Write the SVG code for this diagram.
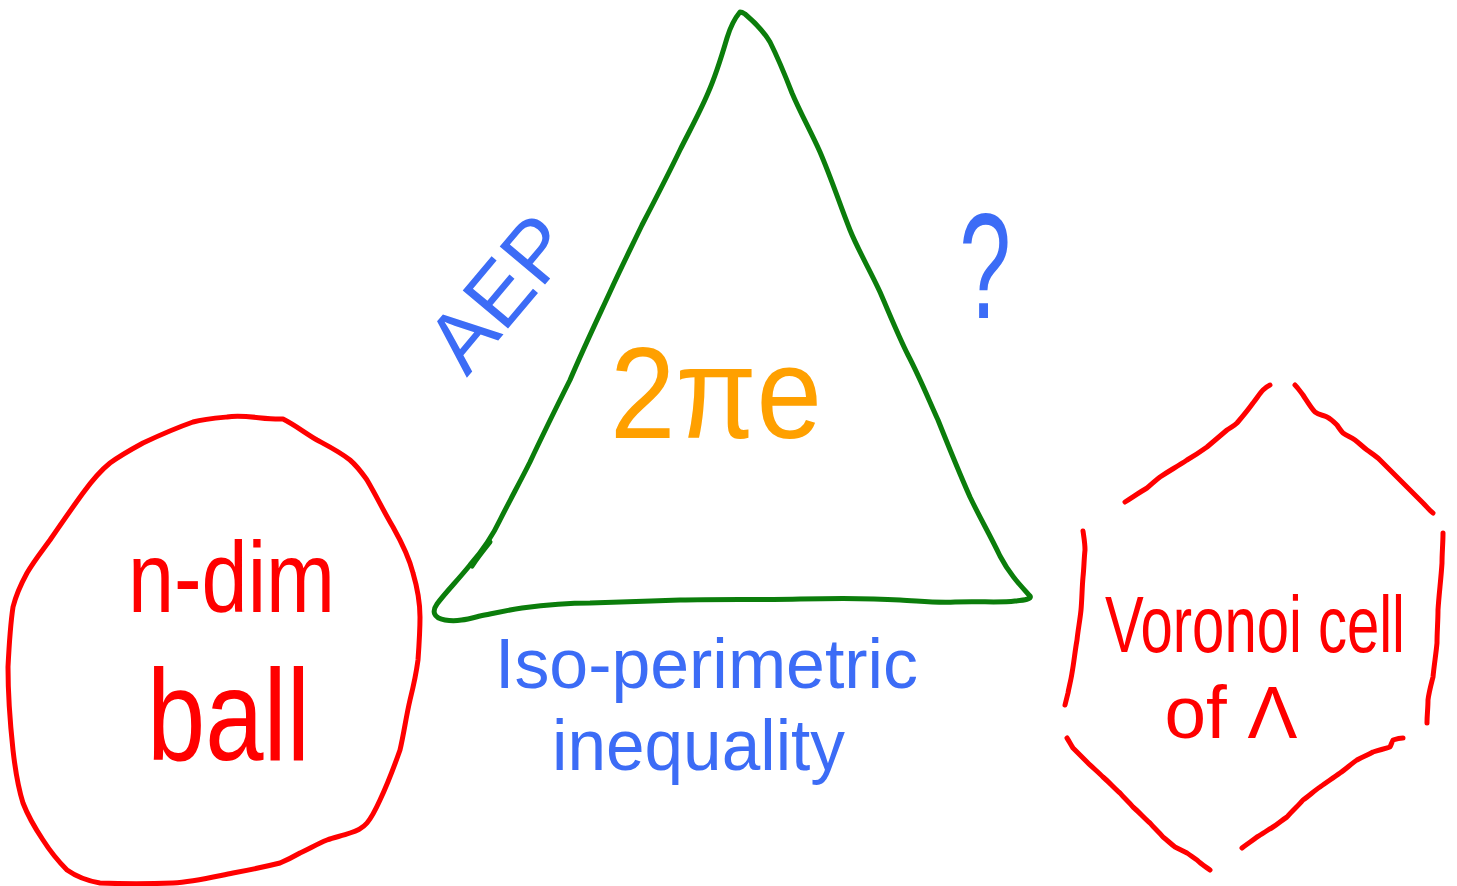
<svg xmlns="http://www.w3.org/2000/svg" width="1457" height="886" viewBox="0 0 1457 886">
<style>
.s{fill:none;stroke-width:5;stroke-linecap:round;stroke-linejoin:round}
.red{stroke:#ff0000}
.grn{stroke:#0b7d0b}
.t{font-family:"Liberation Sans",Arial,sans-serif}
.tr{fill:#ff0000}
.tb{fill:#3c6cf6}
.to{fill:#ffa000}
</style>
<rect width="1457" height="886" fill="#ffffff"/>
<g id="ball">
<path class="s red" d="M227,417 C245,414 265,420 283,419 C295,425 305,433 317,440 C330,447 340,452 350,460 C358,467 362,473 367,480 C377,497 384,512 393,527 C402,543 409,557 413,573 C418,590 420,603 420,617 C420,632 419,646 418,660 C416,675 413,688 410,700 C406,717 404,733 400,750 C394,767 388,783 380,800 C375,811 372,817 367,823 C362,829 356,831 350,833 C342,836 335,837 327,840 C317,844 309,849 300,853 C293,857 287,860 280,863 C264,867 249,870 233,873 C213,877 193,882 173,883 C148,884 124,884 100,883 C88,881 77,877 67,870 C58,861 50,851 43,840 C35,828 28,816 23,803 C18,787 15,768 13,750 C10,722 8,695 8,667 C9,647 10,627 13,607 C16,595 21,584 27,573 C34,561 42,551 50,540 C61,524 72,508 83,493 C91,482 100,471 110,463 C121,455 132,449 143,443 C160,435 176,428 193,422 C204,419 216,418 227,417 Z"/>
<text class="t tr" x="128" y="612" font-size="100" textLength="207" lengthAdjust="spacingAndGlyphs">n-dim</text>
<text class="t tr" x="147" y="760" font-size="130" textLength="163" lengthAdjust="spacingAndGlyphs">ball</text>
</g>
<g id="triangle">
<path class="s grn" d="M740,12 C735,18 730,28 727,38 C722,55 716,75 708,93 C700,112 690,130 680,150 C668,175 655,200 642,225 C630,250 620,270 610,292 C598,318 585,345 570,380 C555,410 545,430 530,462 C520,482 510,500 500,520 C492,537 483,550 470,565 C458,580 445,593 437,604 C432,611 433,618 445,620 C458,622 468,619 480,616 C495,613 508,610 522,608 C545,605 565,603 590,603 C625,602 650,601 680,600 C720,599 760,600 800,599 C840,598 870,598 900,600 C920,601 935,603 955,602 C980,601 1000,603 1015,601 C1025,600 1032,599 1030,596 C1020,585 1010,575 1000,556 C990,535 980,518 970,497 C958,470 948,445 938,420 C928,398 920,378 908,355 C898,335 890,315 880,292 C870,270 858,250 850,230 C840,205 832,180 820,152 C810,130 800,112 792,93 C785,75 778,58 770,42 C763,30 752,20 745,14 C742,12 741,12 740,12 Z"/>
<path class="s grn" d="M490,542 C482,552 476,560 472,566"/>
<text class="t to" x="716" y="438" font-size="130" text-anchor="middle" textLength="212" lengthAdjust="spacingAndGlyphs">2πe</text>
</g>
<g id="labels">
<text class="t tb" x="0" y="0" font-size="86" text-anchor="middle" transform="translate(522,312) rotate(-50)">AEP</text>
<text class="t tb" x="0" y="0" font-size="150" text-anchor="middle" transform="translate(985,318) scale(0.62,1)">?</text>
<text class="t tb" x="495" y="688" font-size="70" textLength="423" lengthAdjust="spacingAndGlyphs">Iso-perimetric</text>
<text class="t tb" x="552" y="770" font-size="72" textLength="293" lengthAdjust="spacingAndGlyphs">inequality</text>
</g>
<g id="voronoi">
<path class="s red" d="M1125,502 C1133,497 1140,492 1147,488 C1152,484 1156,480 1160,477 C1169,471 1178,466 1187,460 C1194,456 1200,452 1207,447 C1214,441 1220,436 1227,430 C1231,427 1234,426 1237,423 C1243,416 1248,410 1253,403 C1257,398 1260,393 1263,390 C1266,387 1268,386 1270,385"/>
<path class="s red" d="M1295,385 C1298,388 1300,391 1303,395 C1307,401 1311,408 1315,412 C1319,415 1323,415 1327,417 C1331,419 1334,422 1337,425 C1339,428 1341,431 1343,433 C1347,436 1351,437 1355,440 C1359,443 1363,447 1367,450 C1371,453 1376,456 1380,460 C1384,464 1389,469 1393,473 C1399,479 1404,484 1410,490 C1414,494 1419,499 1423,503 C1427,507 1430,511 1433,513"/>
<path class="s red" d="M1083,531 C1084,538 1085,543 1085,550 C1084,559 1084,568 1083,577 C1082,588 1082,599 1081,610 C1080,620 1078,630 1077,640 C1075,651 1074,662 1072,673 C1071,680 1069,687 1068,693 C1067,697 1066,701 1065,705"/>
<path class="s red" d="M1443,533 C1443,543 1442,553 1442,563 C1441,579 1439,594 1438,610 C1438,621 1437,632 1437,643 C1436,654 1434,666 1433,677 C1431,685 1429,692 1428,700 C1428,708 1427,715 1427,723"/>
<path class="s red" d="M1067,738 C1069,741 1071,745 1073,748 C1078,753 1082,757 1087,762 C1092,767 1098,772 1103,777 C1109,782 1114,788 1120,793 C1124,798 1129,802 1133,807 C1139,812 1144,818 1150,823 C1154,828 1159,832 1163,837 C1167,840 1171,844 1175,847 C1179,849 1183,851 1187,853 C1190,855 1194,858 1197,860 C1201,864 1206,867 1210,870"/>
<path class="s red" d="M1242,848 C1247,844 1252,841 1257,837 C1262,834 1268,830 1273,827 C1278,824 1282,820 1287,817 C1292,811 1298,806 1303,800 C1309,796 1314,791 1320,787 C1327,782 1333,778 1340,773 C1346,769 1351,764 1357,760 C1362,757 1368,755 1373,752 C1379,750 1384,749 1390,747 C1391,745 1392,742 1393,740 C1396,739 1400,738 1403,738"/>
<text class="t tr" x="0" y="0" font-size="62" text-anchor="middle" textLength="300" lengthAdjust="spacingAndGlyphs" transform="translate(1255,652) scale(1,1.3)">Voronoi cell</text>
<text class="t tr" x="0" y="0" font-size="62" text-anchor="middle" textLength="133" lengthAdjust="spacingAndGlyphs" transform="translate(1231,738) scale(1,1.2)">of Λ</text>
</g>
</svg>
